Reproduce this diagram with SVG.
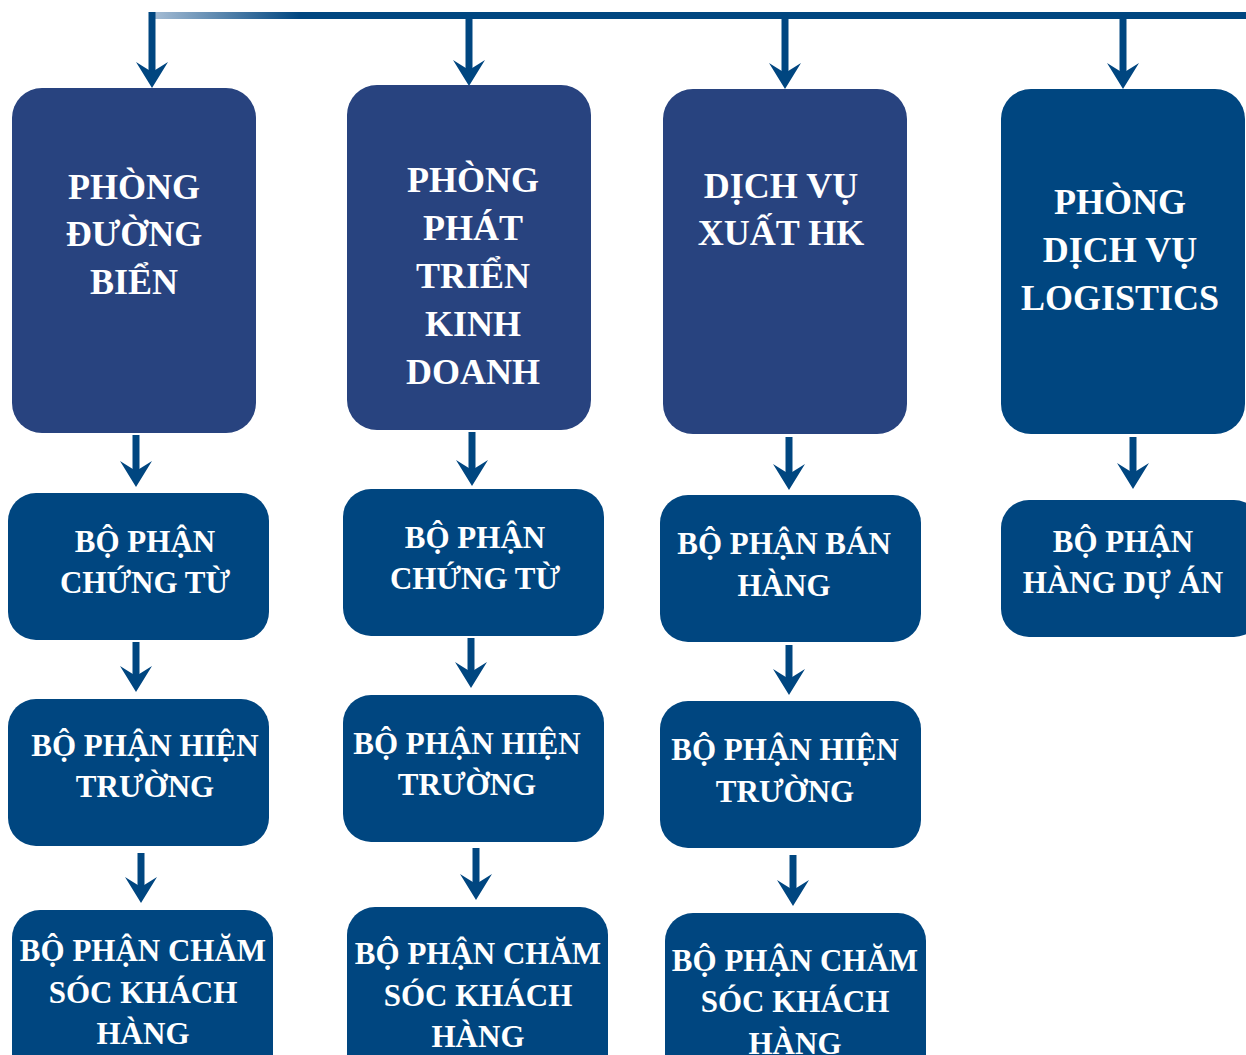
<svg xmlns="http://www.w3.org/2000/svg" width="1246" height="1055" viewBox="0 0 1246 1055">
<style>
.t{font-family:"Liberation Serif","DejaVu Serif",serif;font-weight:bold;fill:#fff;text-anchor:middle}
.h{font-size:36px}
.s{font-size:31px}
.a{fill:#28437f}
.b{fill:#004680}
.st{stroke:#004680;stroke-width:7;fill:none}
</style>
<defs>
<linearGradient id="g" x1="150" y1="0" x2="300" y2="0" gradientUnits="userSpaceOnUse">
<stop offset="0" stop-color="#a9bfd6"/>
<stop offset="1" stop-color="#004680"/>
</linearGradient>
<path id="ah" d="M-16,-26 L0,-16 L16,-26 L0,0 Z" fill="#004680"/>
</defs>
<g id="connectors">
<rect x="150" y="12" width="1096" height="7" fill="url(#g)"/>
<line class="st" x1="152" y1="12" x2="152" y2="72"/><use href="#ah" x="152" y="88"/>
<line class="st" x1="469" y1="19" x2="469" y2="70"/><use href="#ah" x="469" y="86"/>
<line class="st" x1="785" y1="19" x2="785" y2="73"/><use href="#ah" x="785" y="89"/>
<line class="st" x1="1123" y1="19" x2="1123" y2="73"/><use href="#ah" x="1123" y="89"/>
<line class="st" x1="136" y1="435" x2="136" y2="471"/><use href="#ah" x="136" y="487"/>
<line class="st" x1="136" y1="642" x2="136" y2="676"/><use href="#ah" x="136" y="692"/>
<line class="st" x1="141" y1="853" x2="141" y2="887"/><use href="#ah" x="141" y="903"/>
<line class="st" x1="472" y1="432" x2="472" y2="470"/><use href="#ah" x="472" y="486"/>
<line class="st" x1="471" y1="638" x2="471" y2="672"/><use href="#ah" x="471" y="688"/>
<line class="st" x1="476" y1="848" x2="476" y2="884"/><use href="#ah" x="476" y="900"/>
<line class="st" x1="789" y1="437" x2="789" y2="474"/><use href="#ah" x="789" y="490"/>
<line class="st" x1="789" y1="645" x2="789" y2="679"/><use href="#ah" x="789" y="695"/>
<line class="st" x1="793" y1="855" x2="793" y2="890"/><use href="#ah" x="793" y="906"/>
<line class="st" x1="1133" y1="437" x2="1133" y2="473"/><use href="#ah" x="1133" y="489"/>
</g>
<g id="n1"><rect class="a" x="12" y="88" width="244" height="345" rx="30"/>
<text class="t h" x="134"><tspan x="134" y="199">PHÒNG</tspan><tspan x="134" y="246">ĐƯỜNG</tspan><tspan x="134" y="294">BIỂN</tspan></text></g>
<g id="n2"><rect class="a" x="347" y="85" width="244" height="345" rx="30"/>
<text class="t h"><tspan x="473" y="192">PHÒNG</tspan><tspan x="473" y="240">PHÁT</tspan><tspan x="473" y="288">TRIỂN</tspan><tspan x="473" y="336">KINH</tspan><tspan x="473" y="384">DOANH</tspan></text></g>
<g id="n3"><rect class="a" x="663" y="89" width="244" height="345" rx="30"/>
<text class="t h"><tspan x="781" y="198">DỊCH VỤ</tspan><tspan x="781" y="245">XUẤT HK</tspan></text></g>
<g id="n4"><rect class="b" x="1001" y="89" width="244" height="345" rx="30"/>
<text class="t h"><tspan x="1120" y="214">PHÒNG</tspan><tspan x="1120" y="262">DỊCH VỤ</tspan><tspan x="1120" y="310">LOGISTICS</tspan></text></g>
<g id="b1"><rect class="b" x="8" y="493" width="261" height="147" rx="28"/>
<text class="t s"><tspan x="145" y="552">BỘ PHẬN</tspan><tspan x="145" y="593">CHỨNG TỪ</tspan></text></g>
<g id="b2"><rect class="b" x="343" y="489" width="261" height="147" rx="28"/>
<text class="t s"><tspan x="475" y="548">BỘ PHẬN</tspan><tspan x="475" y="589">CHỨNG TỪ</tspan></text></g>
<g id="b3"><rect class="b" x="660" y="495" width="261" height="147" rx="28"/>
<text class="t s"><tspan x="784" y="554">BỘ PHẬN BÁN</tspan><tspan x="784" y="596">HÀNG</tspan></text></g>
<g id="b4"><rect class="b" x="1001" y="500" width="261" height="137" rx="28"/>
<text class="t s"><tspan x="1123" y="552">BỘ PHẬN</tspan><tspan x="1123" y="593">HÀNG DỰ ÁN</tspan></text></g>
<g id="c1"><rect class="b" x="8" y="699" width="261" height="147" rx="28"/>
<text class="t s"><tspan x="145" y="756">BỘ PHẬN HIỆN</tspan><tspan x="145" y="797">TRƯỜNG</tspan></text></g>
<g id="c2"><rect class="b" x="343" y="695" width="261" height="147" rx="28"/>
<text class="t s"><tspan x="467" y="754">BỘ PHẬN HIỆN</tspan><tspan x="467" y="795">TRƯỜNG</tspan></text></g>
<g id="c3"><rect class="b" x="660" y="701" width="261" height="147" rx="28"/>
<text class="t s"><tspan x="785" y="760">BỘ PHẬN HIỆN</tspan><tspan x="785" y="802">TRƯỜNG</tspan></text></g>
<g id="d1"><rect class="b" x="12" y="910" width="261" height="175" rx="28"/>
<text class="t s"><tspan x="143" y="961">BỘ PHẬN CHĂM</tspan><tspan x="143" y="1003">SÓC KHÁCH</tspan><tspan x="143" y="1044">HÀNG</tspan></text></g>
<g id="d2"><rect class="b" x="347" y="907" width="261" height="175" rx="28"/>
<text class="t s"><tspan x="478" y="964">BỘ PHẬN CHĂM</tspan><tspan x="478" y="1006">SÓC KHÁCH</tspan><tspan x="478" y="1047">HÀNG</tspan></text></g>
<g id="d3"><rect class="b" x="665" y="913" width="261" height="175" rx="28"/>
<text class="t s"><tspan x="795" y="971">BỘ PHẬN CHĂM</tspan><tspan x="795" y="1012">SÓC KHÁCH</tspan><tspan x="795" y="1054">HÀNG</tspan></text></g>
</svg>
